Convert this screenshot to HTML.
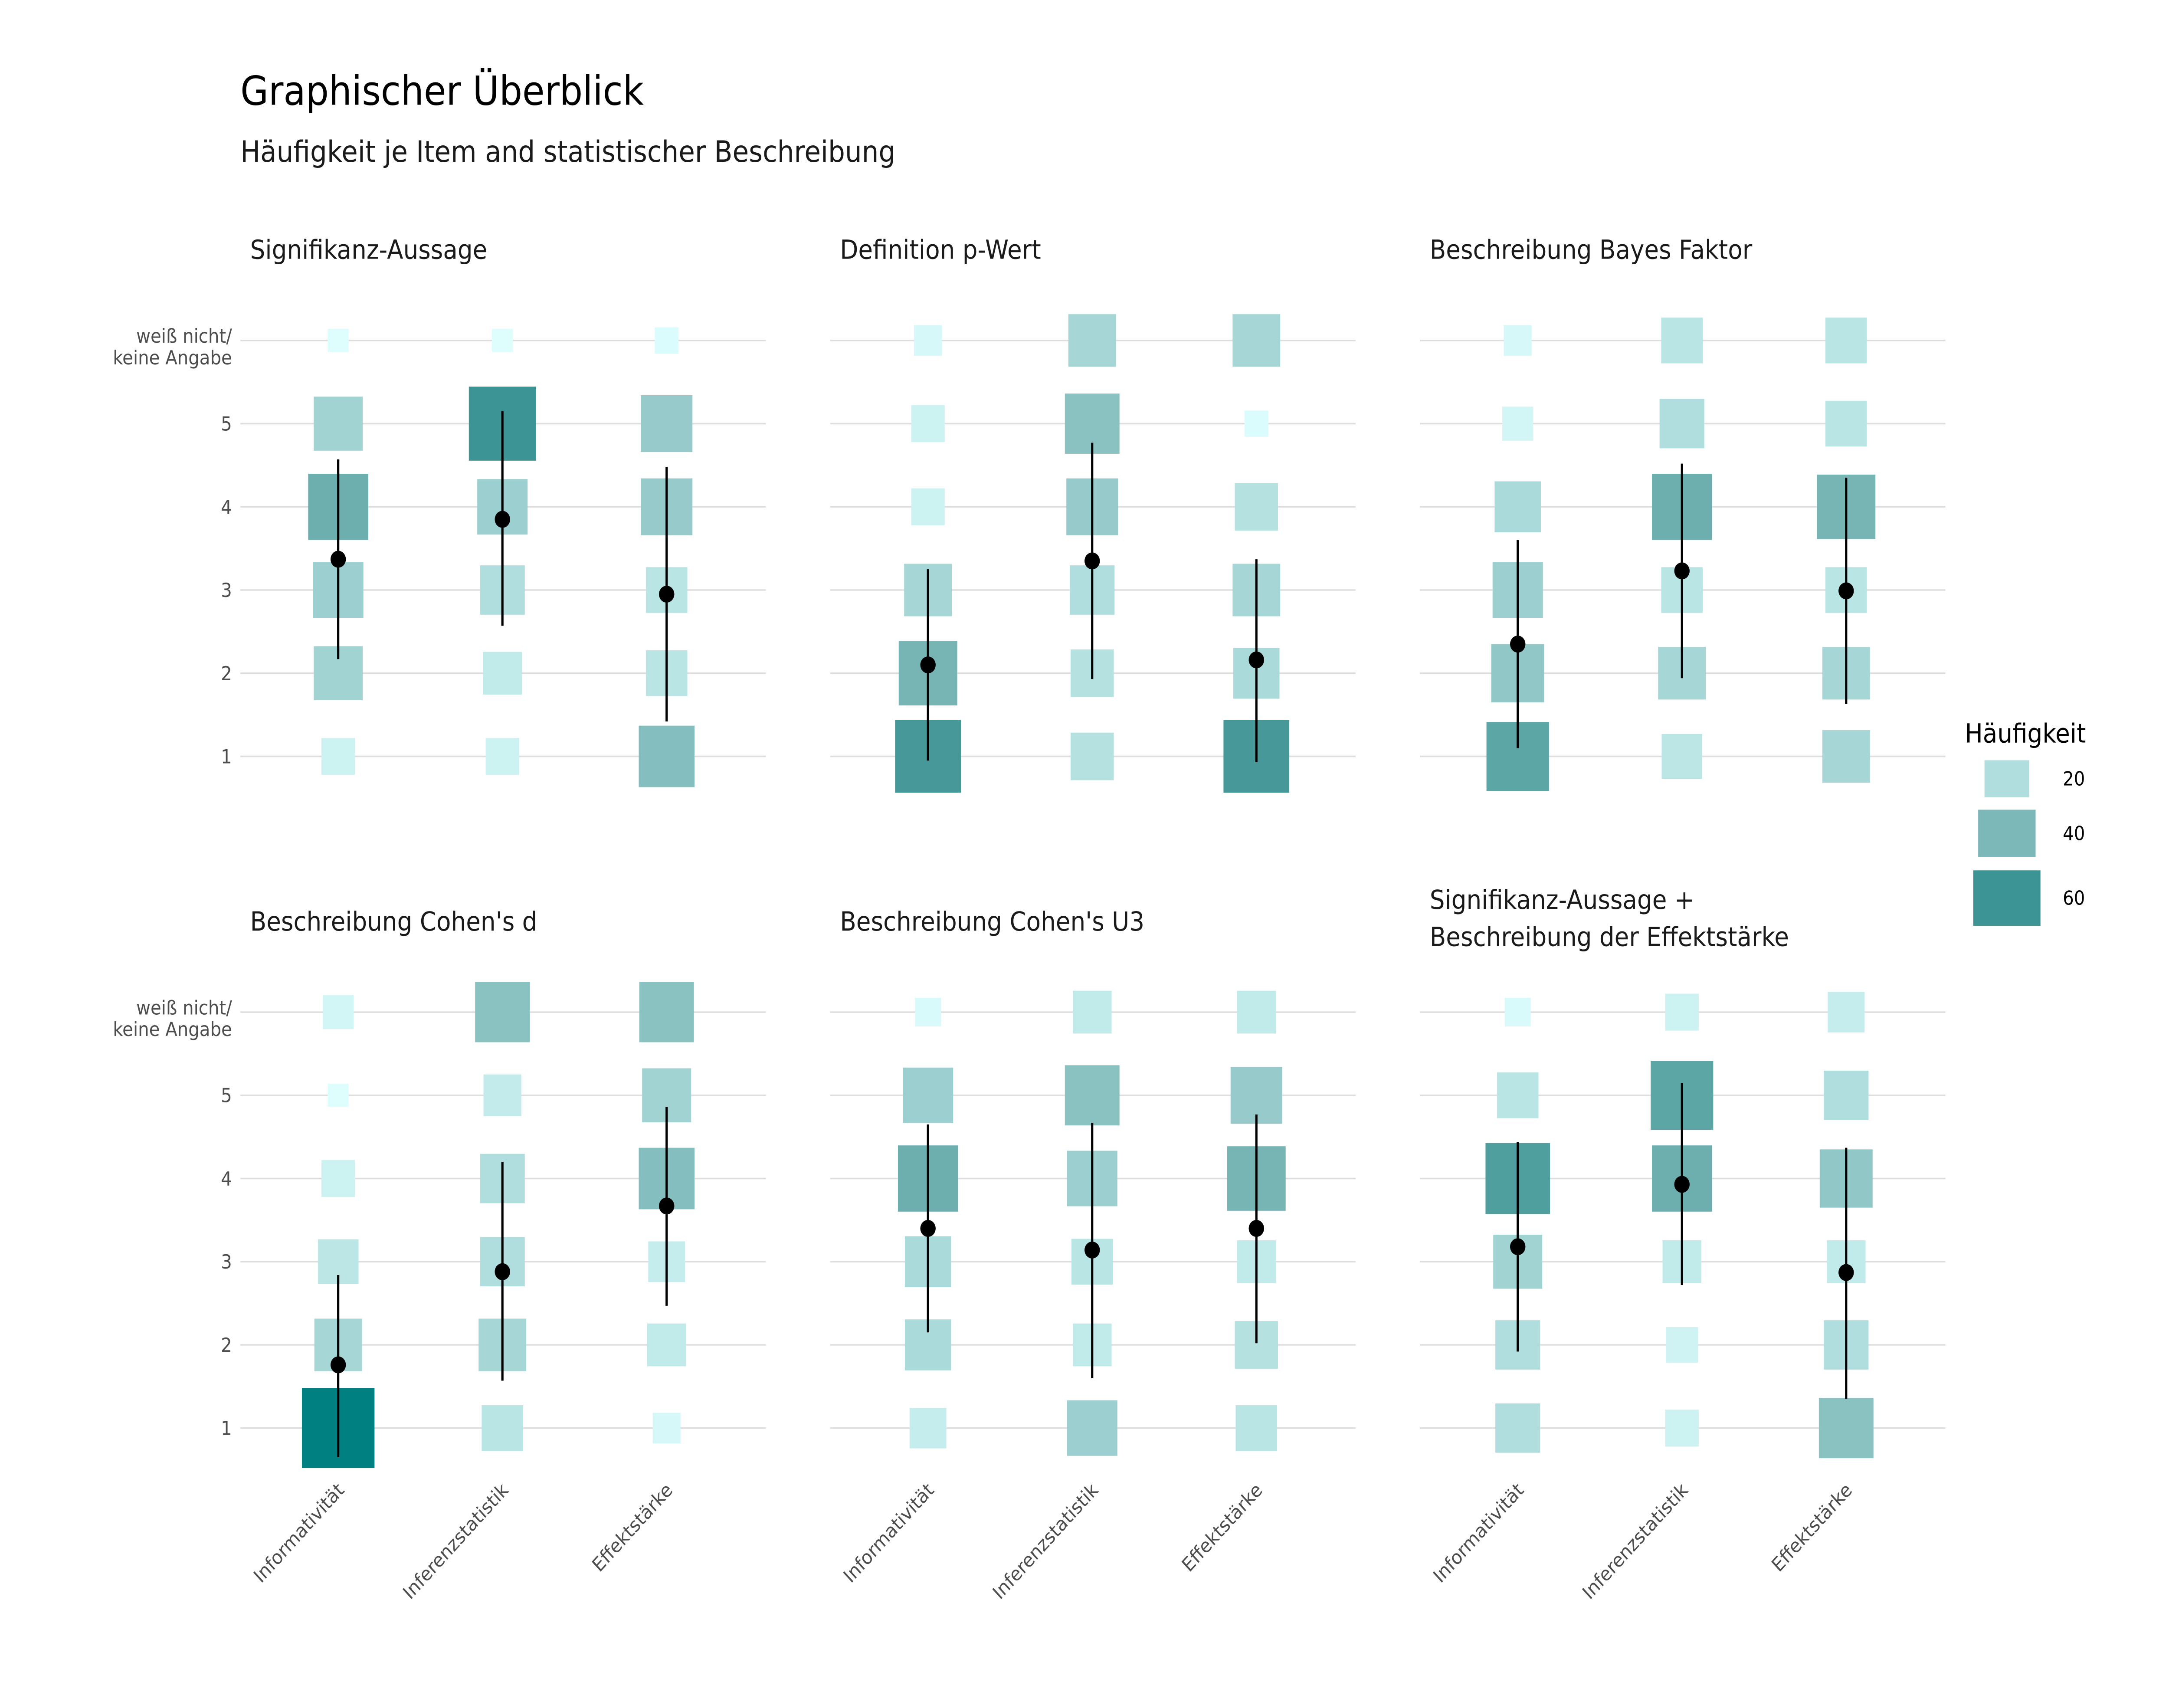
<!DOCTYPE html>
<html><head><meta charset="utf-8"><style>
html,body{margin:0;padding:0;background:#fff;overflow:hidden;width:100vw;height:100vh;}
svg{display:block;width:100vw;height:100vh;font-family:"DejaVu Sans","Liberation Sans",sans-serif;}
</style></head><body>
<svg id="chart" viewBox="0 0 1552 1108.7" preserveAspectRatio="none" xmlns="http://www.w3.org/2000/svg">
<rect width="1552" height="1108.7" fill="#fff"/>
<text x="172" y="68" font-size="26" fill="#000">Graphischer Überblick</text>
<text x="172" y="105" font-size="19" fill="#1a1a1a">Häufigkeit je Item and statistischer Beschreibung</text>
<g id="panels"></g>
<g id="legend"></g>
</svg>
<script>
const panelTitles = [["Signifikanz-Aussage"],["Definition p-Wert"],["Beschreibung Bayes Faktor"],["Beschreibung Cohen's d"],["Beschreibung Cohen's U3"],["Signifikanz-Aussage +","Beschreibung der Effektstärke"]];
const categories = ["Informativität","Inferenzstatistik","Effektstärke"];
const levelLabels = ["1","2","3","4","5","weiß nicht/|keine Angabe"];
// counts[panel][category][level 1..5, wn]
const counts = [
 [[8,26,28,45,26,1],[8,13,20,28,60,1],[37,16,16,30,30,2]],
 [[57,42,24,8,8,4],[18,18,20,30,35,24],[57,22,24,18,2,24]],
 [[50,32,28,22,6,4],[15,24,16,45,20,16],[24,24,16,42,16,16]],
 [[73,24,15,8,1,6],[16,24,20,20,12,35],[4,13,11,37,26,35]],
 [[11,22,22,45,28,3],[28,13,16,28,35,13],[16,18,13,42,30,13]],
 [[20,20,26,54,16,3],[8,7,13,45,50,8],[35,20,13,32,20,11]]
];
const means = [[3.37,3.85,2.95],[2.1,3.35,2.16],[2.35,3.23,2.99],[1.76,2.88,3.67],[3.4,3.14,3.4],[3.18,3.93,2.87]];
const lows  = [[2.17,2.57,1.42],[0.95,1.93,0.93],[1.1,1.94,1.63],[0.65,1.57,2.47],[2.15,1.6,2.02],[1.92,2.72,1.35]];
const highs = [[4.57,5.15,4.48],[3.25,4.77,3.37],[3.6,4.52,4.35],[2.84,4.2,4.86],[4.65,4.67,4.77],[4.44,5.15,4.37]];
const legendValues = [20,40,60];

const NS="http://www.w3.org/2000/svg";
function mk(tag,attrs,parent){const e=document.createElementNS(NS,tag);for(const k in attrs)e.setAttribute(k,attrs[k]);parent.appendChild(e);return e;}
function side(n){return 4.9*Math.sqrt(n)+10.1;}
const cStops=[[0,[224,255,255]],[20,[176,222,222]],[40,[125,184,184]],[60,[61,148,148]],[73,[0,128,128]]];
function color(n){
 for(let i=1;i<cStops.length;i++){
  if(n<=cStops[i][0]||i===cStops.length-1){
   const [n0,a]=cStops[i-1],[n1,b]=cStops[i];const t=Math.max(0,Math.min(1,(n-n0)/(n1-n0)));
   return "rgb("+a.map((v,j)=>Math.round(v+(b[j]-v)*t)).join(",")+")";}
 }}
const panelX=[172,594,1016], y1Top=491, y1Bot=927, step=54;
function xPos(col,ci){return panelX[col]+70+ci*117.5;}
function yPos(row,v){return (row?y1Bot:y1Top)-(v-1)*step;}
const root=document.getElementById("panels");
for(let p=0;p<6;p++){
 const col=p%3,row=Math.floor(p/3);
 const g=mk("g",{},root);
 
 
 const tl=panelTitles[p];
 const ty=row?(tl.length>1?590:604):168;
 tl.forEach((s,i)=>{const t=mk("text",{x:panelX[col]+7,y:ty+i*24,"font-size":"17",fill:"#1a1a1a"},g);t.textContent=s;
  });
 for(let l=0;l<6;l++){
  const y=yPos(row,l+1);
  const gl=mk("line",{x1:panelX[col],x2:panelX[col]+376,y1:y,y2:y,stroke:"#dedede","stroke-width":"1"},g);
  
  if(col===0){
   const parts=levelLabels[l].split("|");
   parts.forEach((s,i)=>{const t=mk("text",{x:166,y:y+4.5+(parts.length>1?(i*14-3):0),"font-size":"12.5",fill:"#4d4d4d","text-anchor":"end"},g);t.textContent=s;
    });
  }
 }
 for(let c=0;c<3;c++){
  const x=xPos(col,c);
  for(let l=0;l<6;l++){
   const n=counts[p][c][l],s=side(n),y=yPos(row,l+1);
   const r=mk("rect",{x:x-s/2,y:y-s/2,width:s,height:s,fill:color(n)},g);
   
  }
  const ln=mk("line",{x1:x,x2:x,y1:yPos(row,lows[p][c]),y2:yPos(row,highs[p][c]),stroke:"#000","stroke-width":"1.6"},g);
  
  const pt=mk("circle",{cx:x,cy:yPos(row,means[p][c]),r:5.5,fill:"#000"},g);
  
  if(row===1){
   const t=mk("text",{x:x+5,y:968,"font-size":"12.5",fill:"#4d4d4d","text-anchor":"end",transform:"rotate(-45 "+(x+5)+" 968)"},g);
   t.textContent=categories[c];
   
  }
 }
}
const lg=document.getElementById("legend");
const lt=mk("text",{x:1406,y:482,"font-size":"17",fill:"#000"},lg);lt.textContent="Häufigkeit";

const legY=[505.5,541,583];
legendValues.forEach((v,i)=>{const s=side(v);const w=s,h=s*0.75;
 const r=mk("rect",{x:1436-w/2,y:legY[i]-h/2,width:w,height:h,fill:color(v)},lg);
 
 const t=mk("text",{x:1476,y:legY[i]+4.3,"font-size":"12.5",fill:"#000"},lg);t.textContent=v;
 });
</script>
</body></html>
